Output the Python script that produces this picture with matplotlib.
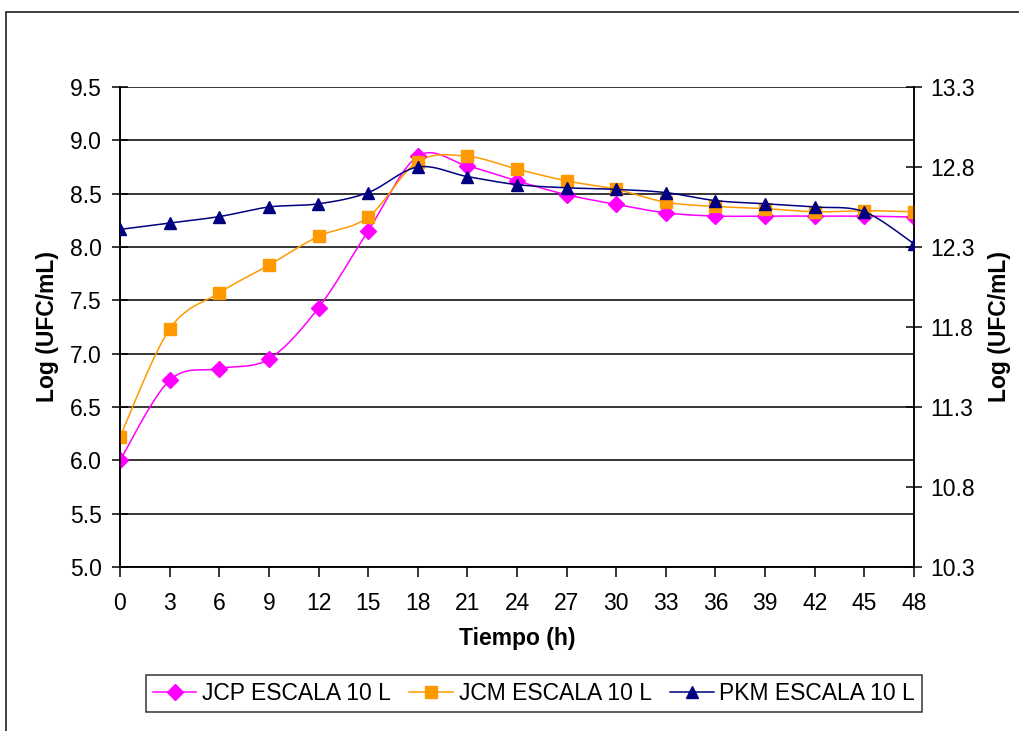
import numpy as np
import matplotlib
matplotlib.use("Agg")
import matplotlib.pyplot as plt
from matplotlib.patches import Rectangle
from matplotlib.lines import Line2D

# Sampling times (h)
tiempo = [0, 3, 6, 9, 12, 15, 18, 21, 24, 27, 30, 33, 36, 39, 42, 45, 48]

# Log (UFC/mL) per strain at 10 L scale
jcp = [6.00, 6.75, 6.86, 6.95, 7.43, 8.15, 8.85, 8.76, 8.62, 8.49, 8.40,
       8.32, 8.29, 8.29, 8.29, 8.29, 8.28]
jcm = [6.22, 7.23, 7.57, 7.83, 8.10, 8.28, 8.80, 8.85, 8.73, 8.62, 8.54,
       8.42, 8.38, 8.36, 8.33, 8.34, 8.33]
# PKM is read on the secondary (right) axis
pkm = [12.41, 12.45, 12.49, 12.55, 12.57, 12.64, 12.80, 12.74, 12.69, 12.67,
       12.66, 12.64, 12.59, 12.57, 12.55, 12.52, 12.32]

left_ticks = [5.0, 5.5, 6.0, 6.5, 7.0, 7.5, 8.0, 8.5, 9.0, 9.5]
right_ticks = [10.3, 10.8, 11.3, 11.8, 12.3, 12.8, 13.3]

labels = ["JCP ESCALA 10 L", "JCM ESCALA 10 L", "PKM ESCALA 10 L"]
colors = ["#FF00FF", "#FF9900", "#000080"]
markers = ["D", "s", "^"]
msizes = [8.0, 8.5, 9.0]


def smooth(x, y, n=24):
    """Catmull-Rom spline through the points (smoothed line)."""
    x = np.asarray(x, float)
    y = np.asarray(y, float)
    px = np.concatenate([[x[0]], x, [x[-1]]])
    py = np.concatenate([[y[0]], y, [y[-1]]])
    t = np.linspace(0, 1, n, endpoint=False)
    xs, ys = [], []
    for i in range(1, len(px) - 2):
        p0, p1, p2, p3 = px[i - 1], px[i], px[i + 1], px[i + 2]
        q0, q1, q2, q3 = py[i - 1], py[i], py[i + 1], py[i + 2]
        t2, t3 = t * t, t * t * t
        xs.append(0.5 * (2 * p1 + (-p0 + p2) * t + (2 * p0 - 5 * p1 + 4 * p2 - p3) * t2
                         + (-p0 + 3 * p1 - 3 * p2 + p3) * t3))
        ys.append(0.5 * (2 * q1 + (-q0 + q2) * t + (2 * q0 - 5 * q1 + 4 * q2 - q3) * t2
                         + (-q0 + 3 * q1 - 3 * q2 + q3) * t3))
    xs.append([x[-1]])
    ys.append([y[-1]])
    return np.concatenate(xs), np.concatenate(ys)


plt.rcParams["font.family"] = ["Liberation Sans", "DejaVu Sans"]

fig = plt.figure(figsize=(10.19, 7.31), dpi=100)
fig.patch.set_facecolor("white")

# Outer chart frame
fig.patches.append(Rectangle((6 / 1019, -0.05), 1.1, 1 - 12 / 731 + 0.05,
                             transform=fig.transFigure, fill=False,
                             edgecolor="#202020", linewidth=1.2, zorder=0))

ax = fig.add_axes([120 / 1019, 1 - 567 / 731, (914 - 120) / 1019, (567 - 87) / 731])
ax2 = ax.twinx()

# Horizontal grid
for v in left_ticks:
    ax.axhline(v, color="black", linewidth=1.1, zorder=1)

lw = 1.1
for yv, c, m, ms in zip([jcp, jcm], colors[:2], markers[:2], msizes[:2]):
    sx, sy = smooth(tiempo, yv)
    ax.plot(sx, sy, color=c, linewidth=lw, zorder=3)
    ax.plot(tiempo, yv, linestyle="none", marker=m, color=c, markersize=ms, zorder=4)

sx, sy = smooth(tiempo, pkm)
ax2.plot(sx, sy, color=colors[2], linewidth=lw, zorder=3)
ax2.plot(tiempo, pkm, linestyle="none", marker=markers[2], color=colors[2],
         markersize=msizes[2], zorder=4)

ax.set_xlim(0, 48)
ax.set_ylim(5.0, 9.5)
ax2.set_ylim(10.3, 13.3)

ax.set_xticks(tiempo)
ax.set_xticklabels([str(t) for t in tiempo])
ax.set_yticks(left_ticks)
ax.set_yticklabels([f"{v:.1f}" for v in left_ticks])
ax2.set_yticks(right_ticks)
ax2.set_yticklabels([f"{v:.1f}" for v in right_ticks])

fs = 16.5
ax.tick_params(axis="y", direction="inout", length=12, width=1.1, pad=7, labelsize=fs)
ax.tick_params(axis="x", direction="out", length=7, width=1.1, pad=11, labelsize=fs)
ax2.tick_params(axis="y", direction="inout", length=12, width=1.1, pad=6, labelsize=fs)

for a in (ax, ax2):
    for s in a.spines.values():
        s.set_color("black")
        s.set_linewidth(1.1)
ax.spines["top"].set_visible(False)
ax2.spines["top"].set_visible(False)

ax.set_ylabel("Log (UFC/mL)", fontsize=fs, fontweight="bold", labelpad=8)
ax2.set_ylabel("Log (UFC/mL)", fontsize=fs, fontweight="bold", labelpad=9)
ax.set_xlabel("Tiempo (h)", fontsize=fs, fontweight="bold", labelpad=9)

handles = [Line2D([], [], color=c, marker=m, linewidth=lw, markersize=ms)
           for c, m, ms in zip(colors, markers, msizes)]
leg = fig.legend(handles, labels, loc="center", ncol=3,
                 bbox_to_anchor=(534 / 1019, 1 - 693.5 / 731),
                 fontsize=fs, frameon=True, fancybox=False, handlelength=1.9,
                 columnspacing=0.8, handletextpad=0.25, borderpad=0.3,
                 borderaxespad=0)
leg.get_frame().set_edgecolor("black")
leg.get_frame().set_linewidth(1.1)

fig.savefig("out.png", dpi=100, facecolor="white")
